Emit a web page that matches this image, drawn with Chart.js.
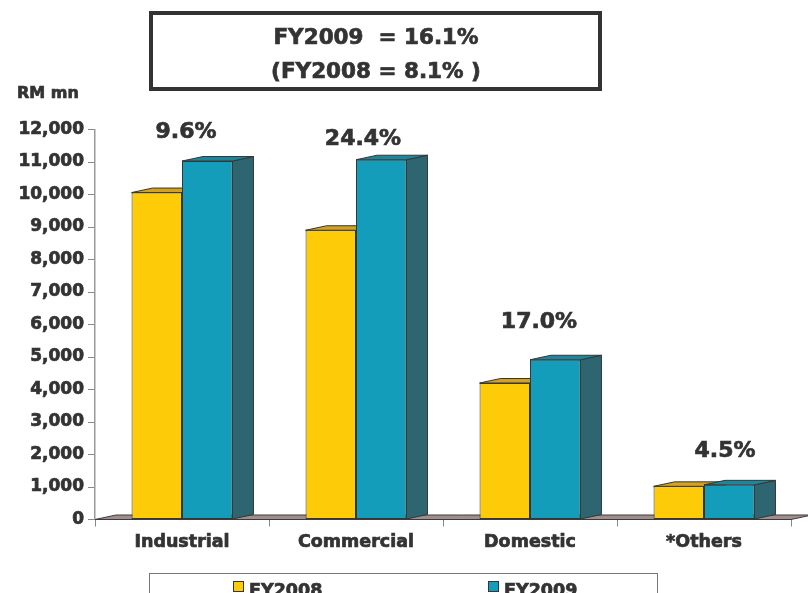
<!DOCTYPE html>
<html>
<head>
<meta charset="utf-8">
<script src="https://cdn.jsdelivr.net/npm/chart.js@4/dist/chart.umd.min.js"></script>
<style>
  html, body { margin: 0; padding: 0; background: #ffffff; }
  #wrap { position: relative; width: 808px; height: 593px; overflow: hidden; }
  canvas { display: block; }
</style>
</head>
<body>
<div id="wrap"><canvas id="c" width="808" height="593"></canvas></div>
<script>
// Sales by customer category, RM mn
const categories = ['Industrial', 'Commercial', 'Domestic', '*Others'];
const seriesNames = ['FY2008', 'FY2009'];
const fy2008 = [10060, 8900, 4200, 1020];
const fy2009 = [11030, 11070, 4915, 1066];
const growthLabels = ['9.6%', '24.4%', '17.0%', '4.5%'];
const yTicks = [0, 1000, 2000, 3000, 4000, 5000, 6000, 7000, 8000, 9000, 10000, 11000, 12000];
const totalLines = ['FY2009  = 16.1%', '(FY2008 = 8.1% )'];
const unitLabel = 'RM mn';

// look & layout
const FONT = "'DejaVu Sans', Verdana, sans-serif";
const TEXT = '#333333';
const EDGE = '#363636';
const HEAVY = 0.7;                    // extra stroke to give the labels a heavier weight
const front = ['#FDCB08', '#139DBA'];
const topFace = ['#D4A21E', '#1B879C'];
const sideFace = ['#B38A10', '#2D6670'];
const DX = 21, DY = 4.5;              // extrusion of the bars / floor
const labelShift = [4, 7, 9, 21];     // growth label offset to the right of group centre
const labelLift = [29, 20, 37, 34];   // growth label centre above the taller bar

function poly(ctx, pts, fill, stroke) {
  ctx.beginPath();
  ctx.moveTo(pts[0][0], pts[0][1]);
  for (let i = 1; i < pts.length; i++) ctx.lineTo(pts[i][0], pts[i][1]);
  ctx.closePath();
  ctx.fillStyle = fill;
  ctx.fill();
  ctx.strokeStyle = stroke;
  ctx.lineWidth = 1;
  ctx.stroke();
}

function heavyText(ctx, s, x, y) {
  ctx.lineWidth = HEAVY;
  ctx.strokeStyle = TEXT;
  ctx.fillStyle = TEXT;
  ctx.strokeText(s, x, y);
  ctx.fillText(s, x, y);
}

const depthPlugin = {
  id: 'depth',
  beforeDatasetsDraw(chart) {
    const ctx = chart.ctx;
    const area = chart.chartArea;
    const base = chart.scales.y.getPixelForValue(0);
    ctx.save();
    // floor slab
    poly(ctx, [[area.left, base], [area.right, base], [area.right + DX, base - DY], [area.left + DX, base - DY]],
      '#9E8E8E', '#3f3a3a');
    // top and side faces of every bar; front faces are drawn by the chart on top
    chart.data.datasets.forEach((ds, di) => {
      const meta = chart.getDatasetMeta(di);
      meta.data.forEach(bar => {
        const l = bar.x - bar.width / 2, r = bar.x + bar.width / 2;
        const t = bar.y, b = bar.base;
        poly(ctx, [[r, t], [r + DX, t - DY], [r + DX, b - DY], [r, b]], sideFace[di], EDGE);
        poly(ctx, [[l, t], [r, t], [r + DX, t - DY], [l + DX, t - DY]], topFace[di], EDGE);
      });
    });
    ctx.restore();
  },
  afterDatasetsDraw(chart) {
    const ctx = chart.ctx;
    const m0 = chart.getDatasetMeta(0), m1 = chart.getDatasetMeta(1);
    ctx.save();
    ctx.font = 'bold 22px ' + FONT;
    ctx.textAlign = 'center';
    ctx.textBaseline = 'middle';
    categories.forEach((c, i) => {
      const cx = (m0.data[i].x + m1.data[i].x) / 2;
      const top = chart.scales.y.getPixelForValue(Math.max(fy2008[i], fy2009[i]));
      heavyText(ctx, growthLabels[i], cx + labelShift[i], top - labelLift[i]);
    });
    ctx.restore();
  },
  afterDraw(chart) {
    const ctx = chart.ctx;
    ctx.save();
    // total growth box
    ctx.strokeStyle = '#333333';
    ctx.lineWidth = 4;
    ctx.strokeRect(151, 13, 449, 76);
    ctx.font = 'bold 21.5px ' + FONT;
    ctx.textAlign = 'center';
    ctx.textBaseline = 'middle';
    heavyText(ctx, totalLines[0], 376, 38);
    heavyText(ctx, totalLines[1], 376, 72);
    // unit
    ctx.font = 'bold 16px ' + FONT;
    ctx.textAlign = 'left';
    heavyText(ctx, unitLabel, 17, 94);
    // legend
    ctx.strokeStyle = '#777777';
    ctx.lineWidth = 1;
    ctx.strokeRect(149.5, 573.5, 508, 40);
    const lx = [233, 488];
    ctx.font = 'bold 17.5px ' + FONT;
    ctx.textBaseline = 'alphabetic';
    seriesNames.forEach((n, i) => {
      ctx.fillStyle = front[i];
      ctx.fillRect(lx[i] + 0.5, 581.5, 10, 10);
      ctx.lineWidth = 1;
      ctx.strokeStyle = EDGE;
      ctx.strokeRect(lx[i] + 0.5, 581.5, 10, 10);
      heavyText(ctx, n, lx[i] + 16, 596);
    });
    ctx.restore();
  }
};

new Chart(document.getElementById('c'), {
  type: 'bar',
  data: {
    labels: categories,
    datasets: [
      { label: seriesNames[0], data: fy2008, backgroundColor: front[0], borderColor: EDGE, borderWidth: 1, borderSkipped: false },
      { label: seriesNames[1], data: fy2009, backgroundColor: front[1], borderColor: EDGE, borderWidth: 1, borderSkipped: false }
    ]
  },
  options: {
    responsive: false,
    animation: false,
    devicePixelRatio: 1,
    layout: { padding: { top: 129.5, right: 17, left: 0, bottom: 0 } },
    plugins: { legend: { display: false }, tooltip: { enabled: false }, title: { display: false } },
    datasets: { bar: { categoryPercentage: 0.58, barPercentage: 1.0 } },
    scales: {
      x: {
        offset: true,
        grid: { offset: true, drawOnChartArea: false, drawTicks: true, tickLength: 7, color: '#888888' },
        border: { display: true, color: '#444444' },
        ticks: {
          color: TEXT, font: { family: FONT, size: 17.5, weight: 'bold' }, padding: 5, maxRotation: 0,
          textStrokeColor: TEXT, textStrokeWidth: HEAVY
        },
        afterFit(scale) { scale.height = 73.5; }
      },
      y: {
        min: 0,
        max: 12000,
        afterBuildTicks(scale) { scale.ticks = yTicks.map(v => ({ value: v })); },
        grid: { drawOnChartArea: false, drawTicks: true, tickLength: 7, color: '#888888' },
        border: { display: true, color: '#999999', width: 1.5 },
        ticks: {
          color: TEXT,
          font: { family: FONT, size: 17, weight: 'bold' },
          padding: 4,
          textStrokeColor: TEXT,
          textStrokeWidth: HEAVY,
          callback: v => Number(v).toLocaleString('en-US')
        },
        afterFit(scale) { scale.width = 95; }
      }
    }
  },
  plugins: [depthPlugin]
});
</script>
</body>
</html>
